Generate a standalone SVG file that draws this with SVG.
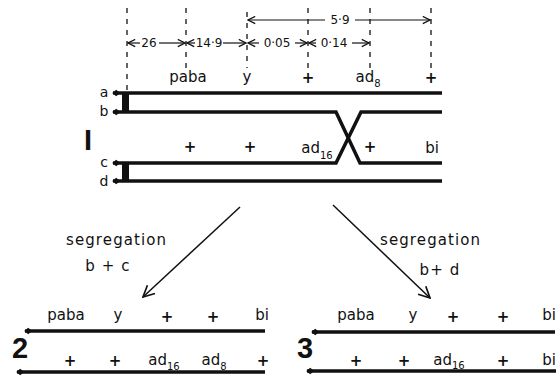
<svg xmlns="http://www.w3.org/2000/svg" width="556" height="376" viewBox="0 0 556 376">
<defs>
<marker id="open" viewBox="0 0 10 10" refX="9" refY="5" markerWidth="9" markerHeight="9" markerUnits="userSpaceOnUse" orient="auto-start-reverse">
<path d="M1,1 L9,5 L1,9" fill="none" stroke="#111" stroke-width="1.4"/>
</marker>
<marker id="bigopen" viewBox="0 0 10 10" refX="9" refY="5" markerWidth="14" markerHeight="14" markerUnits="userSpaceOnUse" orient="auto">
<path d="M1,1 L9,5 L1,9" fill="none" stroke="#111" stroke-width="1.2"/>
</marker>
<marker id="tip" viewBox="0 0 10 10" refX="1" refY="5" markerWidth="8" markerHeight="8" markerUnits="userSpaceOnUse" orient="auto">
<path d="M0,5 L5,1 L10,5 L5,9 Z" fill="#111"/>
</marker>
</defs>
<style>
text{font-family:"DejaVu Sans","Liberation Sans",sans-serif;fill:#111;}
.lab{font-size:15px;text-anchor:middle;}
.plus{font-weight:bold;}
.sub{font-size:10px;}
.dim{font-size:12px;text-anchor:middle;}
.seg{font-size:15px;letter-spacing:1.1px;}
.chr{fill:none;stroke:#111;stroke-width:3.5;stroke-linejoin:miter;}
.dash{stroke:#111;stroke-width:1.3;stroke-dasharray:5,6;fill:none;}
.dimline{stroke:#111;stroke-width:1.2;fill:none;}
.arr{stroke:#111;stroke-width:1.5;fill:none;}
.big{font-family:"Liberation Sans","DejaVu Sans",sans-serif;font-weight:bold;font-size:29px;}
</style>

<g id="scale">
<line class="dash" x1="127" y1="8" x2="127" y2="90"/>
<line class="dash" x1="186" y1="8" x2="186" y2="68"/>
<line class="dash" x1="247" y1="12" x2="247" y2="68"/>
<line class="dash" x1="308" y1="8" x2="308" y2="68"/>
<line class="dash" x1="370" y1="8" x2="370" y2="68"/>
<line class="dash" x1="431" y1="8" x2="431" y2="68"/>
<line class="dimline" x1="325" y1="20" x2="248" y2="20" marker-end="url(#open)"/>
<line class="dimline" x1="355" y1="20" x2="430" y2="20" marker-end="url(#open)"/>
<text class="dim" x="340" y="24">5·9</text>
<line class="dimline" x1="140" y1="43" x2="128" y2="43" marker-end="url(#open)"/>
<line class="dimline" x1="159" y1="43" x2="185" y2="43" marker-end="url(#open)"/>
<text class="dim" x="149" y="47">26</text>
<line class="dimline" x1="195" y1="43" x2="187" y2="43" marker-end="url(#open)"/>
<line class="dimline" x1="223" y1="43" x2="246" y2="43" marker-end="url(#open)"/>
<text class="dim" x="209" y="47">14·9</text>
<line class="dimline" x1="259" y1="43" x2="248" y2="43" marker-end="url(#open)"/>
<line class="dimline" x1="295" y1="43" x2="307" y2="43" marker-end="url(#open)"/>
<text class="dim" x="277" y="47">0·05</text>
<line class="dimline" x1="316" y1="43" x2="309" y2="43" marker-end="url(#open)"/>
<line class="dimline" x1="352" y1="43" x2="369" y2="43" marker-end="url(#open)"/>
<text class="dim" x="334" y="47">0·14</text>
</g>

<g id="chromosome1">
<path class="chr" d="M113,93 H442" marker-start="url(#tip)"/>
<path class="chr" d="M113,112 H336 L360,163 H442" marker-start="url(#tip)"/>
<path class="chr" d="M113,163 H336 L361,112 H442" marker-start="url(#tip)"/>
<path class="chr" d="M113,181 H442" marker-start="url(#tip)"/>
<rect x="122" y="93" width="7" height="19" fill="#111"/>
<rect x="122" y="163" width="7" height="18" fill="#111"/>
<text x="104" y="97" font-size="14" text-anchor="middle">a</text>
<text x="104" y="116" font-size="14" text-anchor="middle">b</text>
<text x="104" y="167" font-size="14" text-anchor="middle">c</text>
<text x="104" y="186" font-size="14" text-anchor="middle">d</text>
<text class="big" x="88" y="150" text-anchor="middle">I</text>
<text class="lab" x="188" y="82">paba</text>
<text class="lab" x="247" y="82">y</text>
<text class="lab plus" x="308" y="83">+</text>
<text class="lab" x="368" y="82">ad<tspan class="sub" dy="5">8</tspan></text>
<text class="lab plus" x="431" y="83">+</text>
<text class="lab plus" x="190" y="152">+</text>
<text class="lab plus" x="250" y="152">+</text>
<text class="lab" x="317" y="153">ad<tspan class="sub" dy="6">16</tspan></text>
<text class="lab plus" x="370" y="152">+</text>
<text class="lab" x="432" y="153">bi</text>
</g>

<g id="connectors">
<line class="arr" x1="240" y1="207" x2="143" y2="297" marker-end="url(#bigopen)"/>
<line class="arr" x1="333" y1="205" x2="430" y2="298" marker-end="url(#bigopen)"/>
</g>

<g id="label-bc">
<text class="seg" x="66" y="245">segregation</text>
<text class="seg" x="108" y="271" text-anchor="middle">b + c</text>
</g>
<g id="label-bd">
<text class="seg" x="380" y="245">segregation</text>
<text class="seg" x="440" y="275" text-anchor="middle">b+ d</text>
</g>

<g id="chromosome2">
<path class="chr" d="M25,331 H265" marker-start="url(#tip)"/>
<path class="chr" d="M17,372 H265" marker-start="url(#tip)"/>
<text class="big" x="20" y="358" text-anchor="middle">2</text>
<text class="lab" x="66" y="320">paba</text>
<text class="lab" x="118" y="320">y</text>
<text class="lab plus" x="167" y="322">+</text>
<text class="lab plus" x="213" y="322">+</text>
<text class="lab" x="262" y="320">bi</text>
<text class="lab plus" x="70" y="366">+</text>
<text class="lab plus" x="115" y="366">+</text>
<text class="lab" x="164" y="365">ad<tspan class="sub" dy="5">16</tspan></text>
<text class="lab" x="214" y="365">ad<tspan class="sub" dy="5">8</tspan></text>
<text class="lab plus" x="263" y="366">+</text>
</g>

<g id="chromosome3">
<path class="chr" d="M312,332 H555" marker-start="url(#tip)"/>
<path class="chr" d="M307,371 H556" marker-start="url(#tip)"/>
<text class="big" x="305" y="358" text-anchor="middle">3</text>
<text class="lab" x="356" y="320">paba</text>
<text class="lab" x="413" y="320">y</text>
<text class="lab plus" x="453" y="322">+</text>
<text class="lab plus" x="503" y="322">+</text>
<text class="lab" x="549" y="320">bi</text>
<text class="lab plus" x="356" y="366">+</text>
<text class="lab plus" x="404" y="366">+</text>
<text class="lab" x="449" y="365">ad<tspan class="sub" dy="4">16</tspan></text>
<text class="lab plus" x="503" y="366">+</text>
<text class="lab" x="549" y="365">bi</text>
</g>
</svg>
